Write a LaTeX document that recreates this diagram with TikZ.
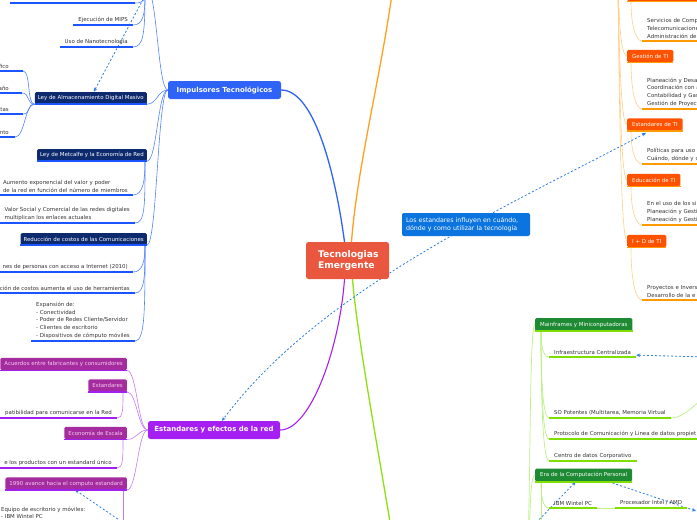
\documentclass[tikz,border=0pt]{standalone}
\usepackage{fontspec}
\setmainfont{DejaVu Sans}
\usetikzlibrary{arrows.meta}
\pgfdeclarelayer{bg}
\pgfsetlayers{bg,main}
\definecolor{txtc}{HTML}{333333}
\definecolor{navy}{HTML}{0E2A6E}
\definecolor{ulblue}{HTML}{1A55FF}
\definecolor{lnblue}{HTML}{5282FF}
\definecolor{mainblue}{HTML}{2F63F7}
\definecolor{redc}{HTML}{E9573F}
\definecolor{orbox}{HTML}{FF5200}
\definecolor{orline}{HTML}{FFA01E}
\definecolor{orthin}{HTML}{FFCF8A}
\definecolor{orul}{HTML}{FF9A00}
\definecolor{purmain}{HTML}{A51FF2}
\definecolor{purbox}{HTML}{A52C9E}
\definecolor{purtxt}{HTML}{F6CCF2}
\definecolor{purul}{HTML}{A020F0}
\definecolor{purthin}{HTML}{C47AF2}
\definecolor{grbox}{HTML}{1F8A34}
\definecolor{grline}{HTML}{8EE010}
\definecolor{grthin}{HTML}{BDF085}
\definecolor{grul}{HTML}{7FE000}
\definecolor{callblue}{HTML}{0B74DE}
\definecolor{linkblue}{HTML}{2A7DE1}
\tikzset{
 fsmall/.style={font=\fontsize{5.45}{7.6}\selectfont},
 txt/.style={fsmall, text=txtc, align=left, inner xsep=5pt, inner ysep=2.6pt},
 uline/.style={append after command={(\tikzlastnode.south west) edge[draw=#1, line width=1.8pt] (\tikzlastnode.south east)}},
 nbox/.style={fsmall, fill=navy, text=white, rounded corners=1.5pt, inner xsep=3pt, inner ysep=0pt, minimum height=12pt, uline=ulblue},
 pbox/.style={fsmall, fill=purbox, text=purtxt, rounded corners=1.5pt, inner xsep=4pt, inner ysep=0pt, minimum height=12.5pt, uline=purul},
 obox/.style={fsmall, fill=orbox, text=white, rounded corners=1.5pt, inner xsep=5pt, inner ysep=0pt, minimum height=12.5pt, uline=orul},
 gbox/.style={fsmall, fill=grbox, text=white, rounded corners=1.5pt, inner xsep=5pt, inner ysep=0pt, minimum height=13pt, uline=grul},
 topic/.style={font=\fontsize{6.95}{8}\selectfont\bfseries, text=white, rounded corners=2.5pt, minimum height=18pt, inner xsep=6pt},
 central/.style={font=\fontsize{9.2}{11}\selectfont\bfseries, text=white, fill=redc, rounded corners=2.5pt, minimum height=37pt, text width=59pt, inner xsep=12pt, align=left},
 callout/.style={font=\fontsize{6.3}{8.4}\selectfont, text=white, fill=callblue, rounded corners=2pt, minimum height=23pt, text width=120pt, inner xsep=4pt, align=left},
 bthin/.style={draw=lnblue, line width=0.6pt},
 pthin/.style={draw=purthin, line width=0.6pt},
 othin/.style={draw=orthin, line width=0.6pt},
 gthin/.style={draw=grthin, line width=0.7pt},
 dlink/.style={draw=linkblue, line width=0.8pt, dash pattern=on 2pt off 2pt},
 tip/.style={-{Stealth[length=4pt,width=3.5pt]}},
}
\begin{document}
\begin{tikzpicture}[x=1pt,y=-1pt]
\useasboundingbox (0,0) rectangle (697,520);
% ---------- central and main topics
\node[central] (c) at (347.5,260.5) {Tecnologias\\Emergente};
\node[topic, fill=mainblue, minimum width=113pt] (imp) at (224.5,90) {Impulsores Tecnológicos};
\node[topic, fill=purmain, minimum width=132pt] (estred) at (214,430) {Estandares y efectos de la red};
\node[callout] (call) at (466,224.5) {Los estandares influyen en cuándo,\\dónde y como utilizar la tecnología};
% off-picture ends
\coordinate (omain) at (395,-30);
\coordinate (gmain) at (396,560);
\coordinate (mooreB) at (145,-5);
\coordinate (mooreE) at (147,-11);
\coordinate (dtop) at (147,-8);
\coordinate (otopC) at (617,-40);
\coordinate (gmainC) at (527,560);
\coordinate (gright) at (705,357);
\coordinate (eraR) at (696,511);
\coordinate (eradash) at (531,528);
\coordinate (avdash) at (131,528);
\coordinate (eqC) at (123,545);
\coordinate (eraMore) at (541,545);
\coordinate (sopR) at (705,398);
% ---------- blue branch
\node[txt, uline=ulblue, anchor=south east, minimum width=125pt, minimum height=8pt] (topitem) at (135,3) {};
\node[txt, uline=ulblue, anchor=south east] (mips) at (133,25) {Ejecución de MIPS};
\node[txt, uline=ulblue, anchor=south east] (nano) at (133,47) {Uso de Nanotecnología};
\node[nbox, anchor=east] (almac) at (147,98) {Ley de Almacenamiento Digital Masivo};
\node[txt, uline=ulblue, inner xsep=0pt, anchor=south east] (f1) at (23,71) {fico\hspace{14pt}};
\node[txt, uline=ulblue, inner xsep=0pt, anchor=south east] (f2) at (22,93) {año\hspace{13pt}};
\node[txt, uline=ulblue, inner xsep=0pt, anchor=south east] (f3) at (23,114) {itas\hspace{14pt}};
\node[txt, uline=ulblue, inner xsep=0pt, anchor=south east] (f4) at (15,137) {nto\hspace{6pt}};
\node[nbox, anchor=east] (met) at (147,155) {Ley de Metcalfe y la Economía de Red};
\node[txt, uline=ulblue, anchor=south east] (aum) at (133,195) {Aumento exponencial del valor y poder\\de la red en función del número de miembros};
\node[txt, uline=ulblue, anchor=south east] (valor) at (135,223) {Valor Social y Comercial de las redes digitales\\multiplican los enlaces actuales};
\node[nbox, anchor=east] (red) at (147,239) {Reducción de costos de las Comunicaciones};
\node[txt, uline=ulblue, anchor=south east] (nes) at (133,272) {nes de personas con acceso a Internet (2010)};
\node[txt, uline=ulblue, anchor=south east] (cion) at (135,293) {ción de costos aumenta el uso de herramientas};
\node[txt, uline=ulblue, anchor=south east] (expan) at (135,341) {Expansión de:\\- Conectividad\\- Poder de Redes Cliente/Servidor\\- Clientes de escritorio\\- Dispositivos de cómputo móviles};
% ---------- purple branch
\node[pbox, anchor=east] (acu) at (127,364) {Acuerdos entre fabricantes y consumidores};
\node[pbox, anchor=east] (est) at (127,385.5) {Estandares};
\node[txt, uline=purul, anchor=south east] (pat) at (117,418) {patibilidad para comunicarse en la Red};
\node[pbox, anchor=east] (esc) at (127,433) {Economía de Escala};
\node[txt, uline=purul, anchor=south east] (uni) at (117,468) {e los productos con un estandard único};
\node[pbox, anchor=east] (av) at (127,483.5) {1990 avance hacia el computo estandard};
\node[txt, anchor=north west, inner xsep=0pt] (equipo) at (1,504) {Equipo de escritorio y móviles:\\- IBM Wintel PC};
% ---------- orange branch
\node[obox, anchor=west, minimum width=90pt] (ob0) at (627,-5) {};
\node[txt, uline=orul, anchor=south west, text width=62pt] (serv) at (642,41) {Servicios de Comp\\Telecomunicacione\\Administración de};
\node[obox, anchor=west] (gest) at (627,56) {Gestión de TI};
\node[txt, uline=orul, anchor=south west, text width=62pt] (plan) at (642,109) {Planeación y Desa\\Coordinación con a\\Contabilidad y Gas\\Gestión de Proyect};
\node[obox, anchor=west] (estTI) at (627,124.5) {Estandares de TI};
\node[txt, uline=orul, anchor=south west, text width=62pt] (polit) at (642,164) {Políticas para uso d\\Cuándo, dónde y c};
\node[obox, anchor=west] (educ) at (627,180) {Educación de TI};
\node[txt, uline=orul, anchor=south west, text width=62pt] (enuso) at (642,225) {En el uso de los si\\Planeación y Gesti\\Planeación y Gesti};
\node[obox, anchor=west] (imasd) at (627,241) {I + D de TI};
\node[txt, uline=orul, anchor=south west, text width=62pt] (proy) at (642,300) {Proyectos e Invers\\Desarrollo de la e};
% ---------- green branch
\node[gbox, anchor=west] (mf) at (535,324.5) {Mainframes y Miniconputadoras};
\node[txt, uline=grul, anchor=south west] (infra) at (549,357) {Infraestructura Centralizada};
\node[txt, uline=grul, anchor=south west] (sopot) at (549,418) {SO Potentes (Multitarea, Memoria Virtual};
\node[txt, uline=grul, anchor=south west] (proto) at (549,439) {Protocolo de Comunicación y Linea de datos propiet};
\node[txt, uline=grul, anchor=south west] (centro) at (549,461) {Centro de datos Corporativo};
\node[gbox, anchor=west] (era) at (535,475) {Era de la Computación Personal};
\node[txt, uline=grul, anchor=south west] (ibm) at (549,508) {IBM Wintel PC};
\node[txt, uline=grul, anchor=south west] (proc) at (615,508) {Procesador Intel / AMD};
% ---------- connectors
\begin{pgfonlayer}{bg}
\draw[line width=1.3pt, mainblue] ([xshift=-3pt]c.north) .. controls +(-8,-60) and +(35,0) .. (imp.east);
\draw[line width=1.3pt, orline] ([xshift=4pt]c.north) .. controls +(6,-80) and +(-10,90) .. (omain);
\draw[line width=1.1pt, purmain] ([xshift=-3pt]c.south) .. controls +(-5,70) and +(30,0) .. (estred.east);
\draw[line width=1.3pt, grline] ([xshift=5pt]c.south) .. controls +(6,70) and +(-12,-80) .. (gmain);
% blue
\draw[bthin] (mooreE) .. controls +(10,0) and +(-10,0) .. (imp.west);
\draw[bthin] (almac.south east) .. controls +(10,0) and +(-10,0) .. (imp.west);
\draw[bthin] (met.south east) .. controls +(10,0) and +(-10,0) .. (imp.west);
\draw[bthin] (red.south east) .. controls +(10,0) and +(-10,0) .. (imp.west);
\draw[bthin] (mooreB) .. controls +(0,5) and +(8,0) .. (topitem.south east);
\draw[bthin] (mooreB) .. controls +(0,20) and +(10,0) .. (mips.south east);
\draw[bthin] (mooreB) .. controls +(0,40) and +(10,0) .. (nano.south east);
\draw[bthin] (almac.south west) .. controls +(-8,0) and +(8,0) .. (f1.south east);
\draw[bthin] (almac.south west) .. controls +(-8,0) and +(8,0) .. (f2.south east);
\draw[bthin] (almac.south west) .. controls +(-8,0) and +(8,0) .. (f3.south east);
\draw[bthin] (almac.south west) .. controls +(-10,0) and +(10,0) .. (f4.south east);
\draw[bthin] ([xshift=-2pt]met.south east) .. controls +(0,20) and +(10,0) .. (aum.south east);
\draw[bthin] ([xshift=-2pt]met.south east) .. controls +(0,45) and +(10,0) .. (valor.south east);
\draw[bthin] ([xshift=-2pt]red.south east) .. controls +(0,15) and +(10,0) .. (nes.south east);
\draw[bthin] ([xshift=-2pt]red.south east) .. controls +(0,30) and +(10,0) .. (cion.south east);
\draw[bthin] ([xshift=-2pt]red.south east) .. controls +(0,65) and +(10,0) .. (expan.south east);
% purple
\draw[pthin] (estred.west) .. controls +(-10,0) and +(10,0) .. (acu.south east);
\draw[pthin] (estred.west) .. controls +(-10,0) and +(10,0) .. (est.south east);
\draw[pthin] (estred.west) .. controls +(-10,0) and +(10,0) .. (esc.south east);
\draw[pthin] (estred.west) .. controls +(-10,0) and +(10,0) .. (av.south east);
\draw[pthin] ([xshift=-4pt]est.south east) .. controls +(0,18) and +(6,0) .. (pat.south east);
\draw[pthin] ([xshift=-4pt]esc.south east) .. controls +(0,20) and +(6,0) .. (uni.south east);
\draw[pthin] ([xshift=-4pt]av.south east) -- (eqC);
% orange
\foreach \b in {ob0,gest,estTI,educ,imasd}
  \draw[othin] (otopC) .. controls +(2,40) and +(-8,0) .. (\b.west);
\draw[othin] ([xshift=4pt]ob0.south west) .. controls +(0,25) and +(-6,0) .. (serv.south west);
\draw[othin] ([xshift=4pt]gest.south west) .. controls +(0,30) and +(-6,0) .. (plan.south west);
\draw[othin] ([xshift=4pt]estTI.south west) .. controls +(0,22) and +(-6,0) .. (polit.south west);
\draw[othin] ([xshift=4pt]educ.south west) .. controls +(0,25) and +(-6,0) .. (enuso.south west);
\draw[othin] ([xshift=4pt]imasd.south west) .. controls +(0,35) and +(-6,0) .. (proy.south west);
% green
\draw[gthin] (gmainC) .. controls +(4,-60) and +(-6,0) .. (mf.west);
\draw[gthin] (gmainC) .. controls +(4,-30) and +(-6,0) .. (era.west);
\draw[gthin] ([xshift=6pt]mf.south west) .. controls +(0,15) and +(-6,0) .. (infra.south west);
\draw[gthin] ([xshift=6pt]mf.south west) .. controls +(0,50) and +(-6,0) .. (sopot.south west);
\draw[gthin] ([xshift=6pt]mf.south west) .. controls +(0,60) and +(-6,0) .. (proto.south west);
\draw[gthin] ([xshift=6pt]mf.south west) .. controls +(0,70) and +(-6,0) .. (centro.south west);
\draw[gthin] ([xshift=6pt]era.south west) .. controls +(0,15) and +(-6,0) .. (ibm.south west);
\draw[gthin] ([xshift=6pt]era.south west) -- (eraMore);
\draw[gthin] (ibm.south east) -- (proc.south west);
\draw[gthin] (sopot.south east) .. controls +(15,0) and +(-5,0) .. (sopR);
% dashed relations
\draw[dlink, tip] (dtop) -- ([xshift=3pt]almac.north);
\draw[dlink, {Stealth[length=4pt,width=3.5pt]}-{Stealth[length=4pt,width=3.5pt]}] ([xshift=19pt,yshift=-2pt]estTI.south west) .. controls (500,210) and (320,290) .. ([xshift=8pt]estred.north);
\draw[dlink, tip] (gright) -- ([yshift=-3pt]infra.east);
\draw[dlink, tip] (eradash) -- ([xshift=-8pt]era.south);
\draw[dlink, tip] ([xshift=25pt]era.south) -- (eraR);
\draw[dlink, tip] (avdash) -- ([xshift=9pt]av.south);
\end{pgfonlayer}
\end{tikzpicture}
\end{document}
